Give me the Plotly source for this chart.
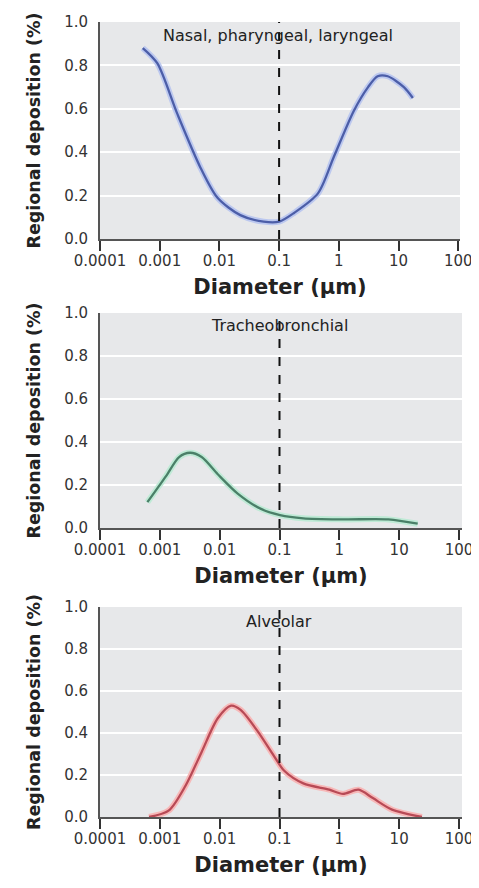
import plotly.graph_objects as go

# ---- data (diameter in µm, regional deposition fraction) ----
nasal_d = [0.00052, 0.00091, 0.00195, 0.0048, 0.0093, 0.0224, 0.055, 0.1, 0.178, 0.447, 0.83, 1.78, 3.09, 4.47, 6.6, 12.3, 17.4]
nasal_v = [0.88, 0.81, 0.58, 0.33, 0.19, 0.11, 0.08, 0.08, 0.12, 0.21, 0.38, 0.59, 0.70, 0.75, 0.75, 0.70, 0.65]

tb_d = [0.00062, 0.00126, 0.0021, 0.0032, 0.0050, 0.0093, 0.020, 0.048, 0.102, 0.25, 1.15, 6.6, 20.4]
tb_v = [0.12, 0.24, 0.33, 0.35, 0.33, 0.25, 0.16, 0.09, 0.06, 0.045, 0.04, 0.04, 0.02]

alv_d = [0.00066, 0.0014, 0.0027, 0.0050, 0.0093, 0.0155, 0.0224, 0.0427, 0.081, 0.12, 0.25, 0.68, 1.15, 2.09, 3.63, 7.6, 24.0]
alv_v = [0.0, 0.03, 0.15, 0.31, 0.47, 0.53, 0.51, 0.41, 0.29, 0.22, 0.16, 0.13, 0.11, 0.13, 0.09, 0.035, 0.0]

panel_labels = ["Nasal, pharyngeal, laryngeal", "Tracheobronchial", "Alveolar"]
x_tickvals = [0.0001, 0.001, 0.01, 0.1, 1, 10, 100]
x_ticktext = ["0.0001", "0.001", "0.01", "0.1", "1", "10", "100"]
y_tickvals = [0.0, 0.2, 0.4, 0.6, 0.8, 1.0]
y_ticktext = ["0.0", "0.2", "0.4", "0.6", "0.8", "1.0"]
cutoff = 0.1

series = [
    (nasal_d, nasal_v, "#4c5ea8", "#bcc8ef"),
    (tb_d, tb_v, "#4a8068", "#bfead6"),
    (alv_d, alv_v, "#b84a56", "#f7b8b8"),
]

FONT = "DejaVu Sans, sans-serif"
fig = go.Figure()

# page body adds an 8 px offset; figure sized to fit the viewport
W, H = 471, 872
L, R, T, B = 92, 14, 14, 63
# plot areas in figure pixels (top, bottom)
panel_px = [(14, 231), (305, 520), (599, 809)]
ph = H - T - B
y_domains = [((H - B - b) / ph, (H - B - t) / ph) for t, b in panel_px]
pw = W - L - R
x_domains = [(0.0, 360 / pw), (0.0, 362 / pw), (0.0, 362 / pw)]
x_ranges = [[-4, 2.03], [-4, 2.05], [-4, 2.05]]
label_y = [0.94, 0.944, 0.93]

for i, ((d, v, core, halo), lab) in enumerate(zip(series, panel_labels)):
    n = "" if i == 0 else str(i + 1)
    xa, ya = "x" + n, "y" + n
    fig.add_trace(go.Scatter(x=d, y=v, mode="lines", xaxis=xa, yaxis=ya,
                             line=dict(color=halo, width=6, shape="spline", smoothing=0.8),
                             hoverinfo="skip", showlegend=False))
    fig.add_trace(go.Scatter(x=d, y=v, mode="lines", xaxis=xa, yaxis=ya,
                             line=dict(color=core, width=2.3, shape="spline", smoothing=0.8),
                             showlegend=False))
    fig.add_trace(go.Scatter(x=[cutoff, cutoff], y=[0, 1.0], mode="lines", xaxis=xa, yaxis=ya,
                             line=dict(color="#111111", width=2, dash="dash"),
                             hoverinfo="skip", showlegend=False))
    fig.add_annotation(x=0.495, xref=xa + " domain",
                       y=label_y[i], yref=ya + " domain", text=lab, showarrow=False,
                       font=dict(family=FONT, size=16, color="#222222"),
                       xanchor="center", yanchor="middle")
    xkey = "xaxis" + n
    ykey = "yaxis" + n
    fig.update_layout(**{
        xkey: dict(type="log", range=x_ranges[i], domain=list(x_domains[i]), anchor=ya,
                   tickvals=x_tickvals, ticktext=x_ticktext, ticks="outside", ticklen=10,
                   tickwidth=2, tickcolor="#333333", showline=True, linecolor="#555555",
                   linewidth=2, showgrid=False, zeroline=False, automargin=False,
                   ticklabelstandoff=-3,
                   tickfont=dict(family=FONT, size=15, color="#333333"),
                   title=dict(text="<b>Diameter (µm)</b>", standoff=10,
                              font=dict(family=FONT, size=21, color="#222222"))),
        ykey: dict(range=[0, 1.0], domain=list(y_domains[i]), anchor=xa,
                   tickvals=y_tickvals, ticktext=y_ticktext, ticks="", ticklabelstandoff=7,
                   showline=True, linecolor="#555555", linewidth=2, showgrid=True,
                   gridcolor="#ffffff", gridwidth=1.5, zeroline=False, automargin=False,
                   tickfont=dict(family=FONT, size=15, color="#333333"),
                   title=dict(text="<b>Regional deposition (%)</b>", standoff=19,
                              font=dict(family=FONT, size=17.5, color="#222222"))),
    })

fig.update_layout(
    width=W, height=H,
    margin=dict(l=L, r=R, t=T, b=B),
    paper_bgcolor="#ffffff", plot_bgcolor="#e7e8ea",
    showlegend=False,
)

fig.write_html("out.html")
